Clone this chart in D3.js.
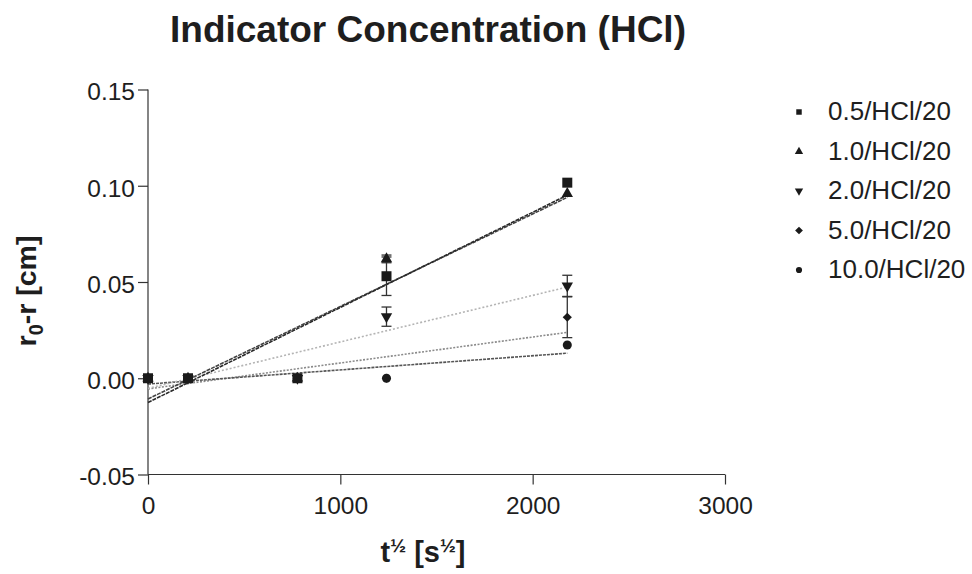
<!DOCTYPE html>
<html>
<head>
<meta charset="utf-8">
<script src="https://cdn.jsdelivr.net/npm/d3@7"></script>
<style>
  body { margin: 0; background: #fff; }
  svg text { font-family: "Liberation Sans", Arial, Helvetica, sans-serif; fill: #1e1e1e; }
  .axis path, .axis line { stroke: #333; stroke-width: 1.2; }
</style>
</head>
<body>
<div id="chart"></div>
<script>
// sqrt(t) sampling points [s^1/2]
var tValues = [0, 208, 777, 1240, 2180];

// r0 - r [cm] per indicator concentration
var seriesNames = ["0.5/HCl/20", "1.0/HCl/20", "2.0/HCl/20", "5.0/HCl/20", "10.0/HCl/20"];
var y05 = [0, 0, 0, 0.053, 0.1016];
var y10 = [0, 0, 0, 0.062, 0.0959];
var y20 = [0, 0, 0, 0.032, 0.048];
var y50 = [0, 0, 0, 0, 0.0317];
var y100 = [0, 0, 0, 0, 0.0173];

// error (+/-) where visible
var e05 = [0, 0, 0, 0.010, 0];
var e10 = [0, 0, 0, 0.002, 0];
var e20 = [0, 0, 0, 0.005, 0.0055];
var e50 = [0, 0, 0, 0, 0.0106];
var e100 = [0, 0, 0, 0, 0];

var xTicks = [0, 1000, 2000, 3000];
var yTicks = [-0.05, 0, 0.05, 0.10, 0.15];

var symbols = [d3.symbolSquare, d3.symbolTriangle, "down", "diamond", d3.symbolCircle];
var symSizes = [100, 56, 56, 42, 64];
var lineColors = ["#2a2a2a", "#444", "#b4b4b4", "#8a8a8a", "#555"];
var lineDash = ["4,1", "4,1", "2,2", "2,1.5", "3,1"];

var allY = [y05, y10, y20, y50, y100];
var allE = [e05, e10, e20, e50, e100];

var W = 972, H = 574;

var svg = d3.select("#chart").append("svg")
    .attr("width", W)
    .attr("height", H);

var x = d3.scaleLinear().domain([0, 3000]).range([148, 725]);
var y = d3.scaleLinear().domain([-0.05, 0.15]).range([474.5, 89.5]);

// title
svg.append("text")
    .attr("x", 428)
    .attr("y", 42)
    .attr("text-anchor", "middle")
    .style("font-size", "37px")
    .style("font-weight", "bold")
    .text("Indicator Concentration (HCl)");

// axes
var xAxis = d3.axisBottom(x).tickValues(xTicks).tickSize(10).tickPadding(12).tickSizeOuter(10)
    .tickFormat(d3.format("d"));
var yAxis = d3.axisLeft(y).tickValues(yTicks).tickSize(10).tickPadding(3).tickSizeOuter(10)
    .tickFormat(function(d){ return d3.format(".2f")(d).replace("−", "-"); });

var gx = svg.append("g")
    .attr("class", "axis")
    .attr("transform", "translate(0," + y(-0.05) + ")")
    .call(xAxis);
gx.select(".domain").attr("d", "M" + x(0) + ",0H" + x(3000));
gx.selectAll("text").style("font-size", "24.5px");

var gy = svg.append("g")
    .attr("class", "axis")
    .attr("transform", "translate(" + x(0) + ",0)")
    .call(yAxis);
gy.select(".domain").attr("d", "M0," + y(0.15) + "V" + y(-0.05));
gy.selectAll("text").style("font-size", "24.5px").attr("dy", "0.42em");

// axis labels
var xl = svg.append("text")
    .attr("x", 423)
    .attr("y", 562)
    .attr("text-anchor", "middle")
    .style("font-size", "29px")
    .style("font-weight", "bold");
xl.append("tspan").text("t");
xl.append("tspan").attr("dy", -10).style("font-size", "19px").text("½");
xl.append("tspan").attr("dy", 10).text(" [s");
xl.append("tspan").attr("dy", -10).style("font-size", "19px").text("½");
xl.append("tspan").attr("dy", 10).text("]");

var yl = svg.append("text")
    .attr("transform", "translate(36,291) rotate(-90)")
    .attr("text-anchor", "middle")
    .style("font-size", "28.5px")
    .style("font-weight", "bold");
yl.append("tspan").text("r");
yl.append("tspan").attr("dy", 7).style("font-size", "20px").text("0");
yl.append("tspan").attr("dy", -7).text("-r [cm]");

// symbol path helper (down triangle / diamond made by rotating)
var symPath = function(i, size){
    var t = symbols[i];
    if (t === "down") t = d3.symbolTriangle;
    if (t === "diamond") t = d3.symbolSquare;
    return d3.symbol().type(t).size(size)();
};
var symRot = function(i){
    if (symbols[i] === "down") return " rotate(180)";
    if (symbols[i] === "diamond") return " rotate(45)";
    return "";
};

// regression lines (least squares over each series)
var fit = function(xs, ys){
    var mx = d3.mean(xs), my = d3.mean(ys);
    var sxy = d3.sum(xs, function(v, i){ return (v - mx) * (ys[i] - my); });
    var sxx = d3.sum(xs, function(v){ return (v - mx) * (v - mx); });
    var b = sxy / sxx;
    return {b: b, a: my - b * mx};
};

var order = [3, 4, 2, 1, 0];
order.forEach(function(s){
    var f = fit(tValues, allY[s]);
    var x0 = d3.min(tValues), x1 = d3.max(tValues);
    svg.append("line")
        .attr("x1", x(x0)).attr("y1", y(f.a + f.b * x0))
        .attr("x2", x(x1)).attr("y2", y(f.a + f.b * x1))
        .attr("stroke", lineColors[s])
        .attr("stroke-width", 1.6)
        .attr("stroke-dasharray", lineDash[s]);
});

// error bars
order.forEach(function(s){
    tValues.forEach(function(t, i){
        var e = allE[s][i];
        if (!e) return;
        var v = allY[s][i];
        var g = svg.append("g").attr("stroke", "#333").attr("stroke-width", 1.3);
        g.append("line").attr("x1", x(t)).attr("x2", x(t)).attr("y1", y(v - e)).attr("y2", y(v + e));
        g.append("line").attr("x1", x(t) - 5).attr("x2", x(t) + 5).attr("y1", y(v - e)).attr("y2", y(v - e));
        g.append("line").attr("x1", x(t) - 5).attr("x2", x(t) + 5).attr("y1", y(v + e)).attr("y2", y(v + e));
    });
});

// points
order.forEach(function(s){
    svg.append("g").selectAll("path")
        .data(tValues.map(function(t, i){ return {t: t, v: allY[s][i]}; }))
        .enter().append("path")
        .attr("d", symPath(s, symSizes[s]))
        .attr("transform", function(d){ return "translate(" + x(d.t) + "," + y(d.v) + ")" + symRot(s); })
        .attr("fill", "#1a1a1a");
});

// legend
var legend = svg.selectAll(".legend")
    .data(seriesNames)
    .enter().append("g")
    .attr("class", "legend")
    .attr("transform", function(d, i){ return "translate(799," + (120 + i * 39.5) + ")"; });

legend.append("path")
    .attr("d", function(d, i){ return symPath(i, 30); })
    .attr("transform", function(d, i){ return "translate(0,-8)" + symRot(i); })
    .attr("fill", "#1a1a1a");

legend.append("text")
    .attr("x", 29)
    .attr("y", 0)
    .style("font-size", "26px")
    .text(function(d){ return d; });
</script>
</body>
</html>
